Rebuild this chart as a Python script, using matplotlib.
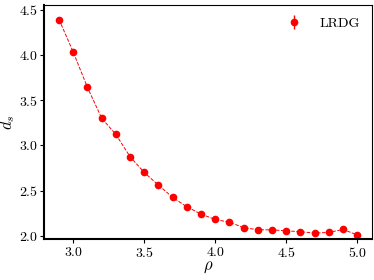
import matplotlib
matplotlib.use("Agg")
import matplotlib.pyplot as plt

plt.rcParams['font.family'] = 'serif'
plt.rcParams['font.serif'] = ['cmr10', 'DejaVu Serif']
plt.rcParams['mathtext.fontset'] = 'cm'
plt.rcParams['axes.formatter.use_mathtext'] = True

rho = [2.9, 3.0, 3.1, 3.2, 3.3, 3.4, 3.5, 3.6, 3.7, 3.8, 3.9,
       4.0, 4.1, 4.2, 4.3, 4.4, 4.5, 4.6, 4.7, 4.8, 4.9, 5.0]
ds = [4.39, 4.03, 3.64, 3.30, 3.12, 2.875, 2.70, 2.56, 2.425, 2.32, 2.24,
      2.18, 2.15, 2.09, 2.067, 2.065, 2.055, 2.045, 2.03, 2.037, 2.07, 2.01]
ds_err = [0.02, 0.02, 0.02, 0.015, 0.015, 0.01, 0.01, 0.01, 0.01, 0.01, 0.01,
          0.01, 0.01, 0.01, 0.01, 0.025, 0.01, 0.01, 0.01, 0.01, 0.01, 0.01]

fig, ax = plt.subplots(figsize=(3.74, 2.8), dpi=100)
ax.plot(rho, ds, ls='--', color='red', lw=0.7)
ax.errorbar(rho, ds, yerr=ds_err, fmt='o', color='red', ms=4.5,
            ecolor='red', elinewidth=1, label='LRDG')

ax.set_xlabel(r'$\rho$', fontsize=12, labelpad=0)
ax.set_ylabel(r'$d_s$', fontsize=12, labelpad=1)
ax.set_xticks([3.0, 3.5, 4.0, 4.5, 5.0])
ax.set_yticks([2.0, 2.5, 3.0, 3.5, 4.0, 4.5])
ax.set_ylim(1.96, 4.55)
ax.tick_params(labelsize=10, direction='out', length=3, pad=1.5)
ax.spines['left'].set_linewidth(1.5)
ax.spines['bottom'].set_linewidth(1.5)
ax.legend(frameon=False, fontsize=10, handletextpad=0.8)

fig.subplots_adjust(left=0.118, right=0.995, top=0.982, bottom=0.145)
fig.savefig('out.png')
